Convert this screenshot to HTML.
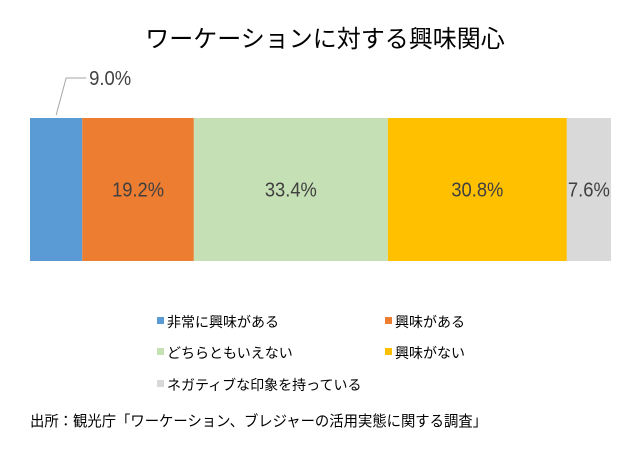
<!DOCTYPE html>
<html><head><meta charset="utf-8"><style>
body{margin:0;background:#fff;width:630px;height:446px;overflow:hidden;font-family:"Liberation Sans","Noto Sans CJK JP",sans-serif}
</style></head><body>
<svg width="630" height="446" xmlns="http://www.w3.org/2000/svg">
<text x="325" y="47" text-anchor="middle" font-size="24" fill="#000" font-family="Liberation Sans, Noto Sans CJK JP, sans-serif">ワーケーションに対する興味関心</text>
<g id="bars"></g>
<g id="legend"></g>
<text x="30" y="426" font-size="15" fill="#000" textLength="457" lengthAdjust="spacingAndGlyphs" font-family="Liberation Sans, Noto Sans CJK JP, sans-serif">出所：観光庁「ワーケーション、ブレジャーの活用実態に関する調査」</text>
</svg>
<script>
const categories=["非常に興味がある","興味がある","どちらともいえない","興味がない","ネガティブな印象を持っている"];
const values=[9.0,19.2,33.4,30.8,7.6];
const colors=["#5b9bd5","#ed7d31","#c5e0b4","#ffc000","#d9d9d9"];
const NS="http://www.w3.org/2000/svg";
const x0=30,x1=611,yTop=118,yBot=261;
const total=values.reduce((a,b)=>a+b,0);
const sx=v=>v/total*(x1-x0);
const bars=document.getElementById('bars');
let cum=0;
values.forEach((v,i)=>{
  const r=document.createElementNS(NS,'rect');
  const x=x0+sx(cum),w=sx(v);
  r.setAttribute('x',x);r.setAttribute('y',yTop);r.setAttribute('width',w);r.setAttribute('height',yBot-yTop);r.setAttribute('fill',colors[i]);
  
  
  bars.appendChild(r);
  const t=document.createElementNS(NS,'text');
  t.textContent=v.toFixed(1)+'%';
  t.setAttribute('font-size','20');t.setAttribute('fill','#404040');
  t.setAttribute('textLength',String(v.toFixed(1).length*10+12));
  t.setAttribute('lengthAdjust','spacingAndGlyphs');
  if(i===0){
    t.setAttribute('x',x+w/2+33);t.setAttribute('y',85);t.setAttribute('text-anchor','start');
    const l=document.createElementNS(NS,'polyline');
    l.setAttribute('points',(x+w/2)+','+(yTop-3)+' '+(x+w/2+10)+','+78+' '+(x+w/2+30)+','+78);
    l.setAttribute('fill','none');l.setAttribute('stroke','#a6a6a6');
    
    
    bars.appendChild(l);
  }else{
    t.setAttribute('x',x+w/2);t.setAttribute('y',(yTop+yBot)/2+7);t.setAttribute('text-anchor','middle');
  }
  
  
  bars.appendChild(t);
  cum+=v;
});
const lg=document.getElementById('legend');
const pos=[[157,322],[385,322],[157,353],[385,353],[157,385]];
categories.forEach((c,i)=>{
  const g=document.createElementNS(NS,'g');
  
  
  const r=document.createElementNS(NS,'rect');
  r.setAttribute('x',pos[i][0]);r.setAttribute('y',pos[i][1]-5);r.setAttribute('width',7);r.setAttribute('height',7);r.setAttribute('fill',colors[i]);
  g.appendChild(r);
  const t=document.createElementNS(NS,'text');
  t.textContent=c;t.setAttribute('x',pos[i][0]+10);t.setAttribute('y',pos[i][1]+5);t.setAttribute('font-size','14');t.setAttribute('fill','#000');
  g.appendChild(t);
  lg.appendChild(g);
});
</script>
</body></html>
